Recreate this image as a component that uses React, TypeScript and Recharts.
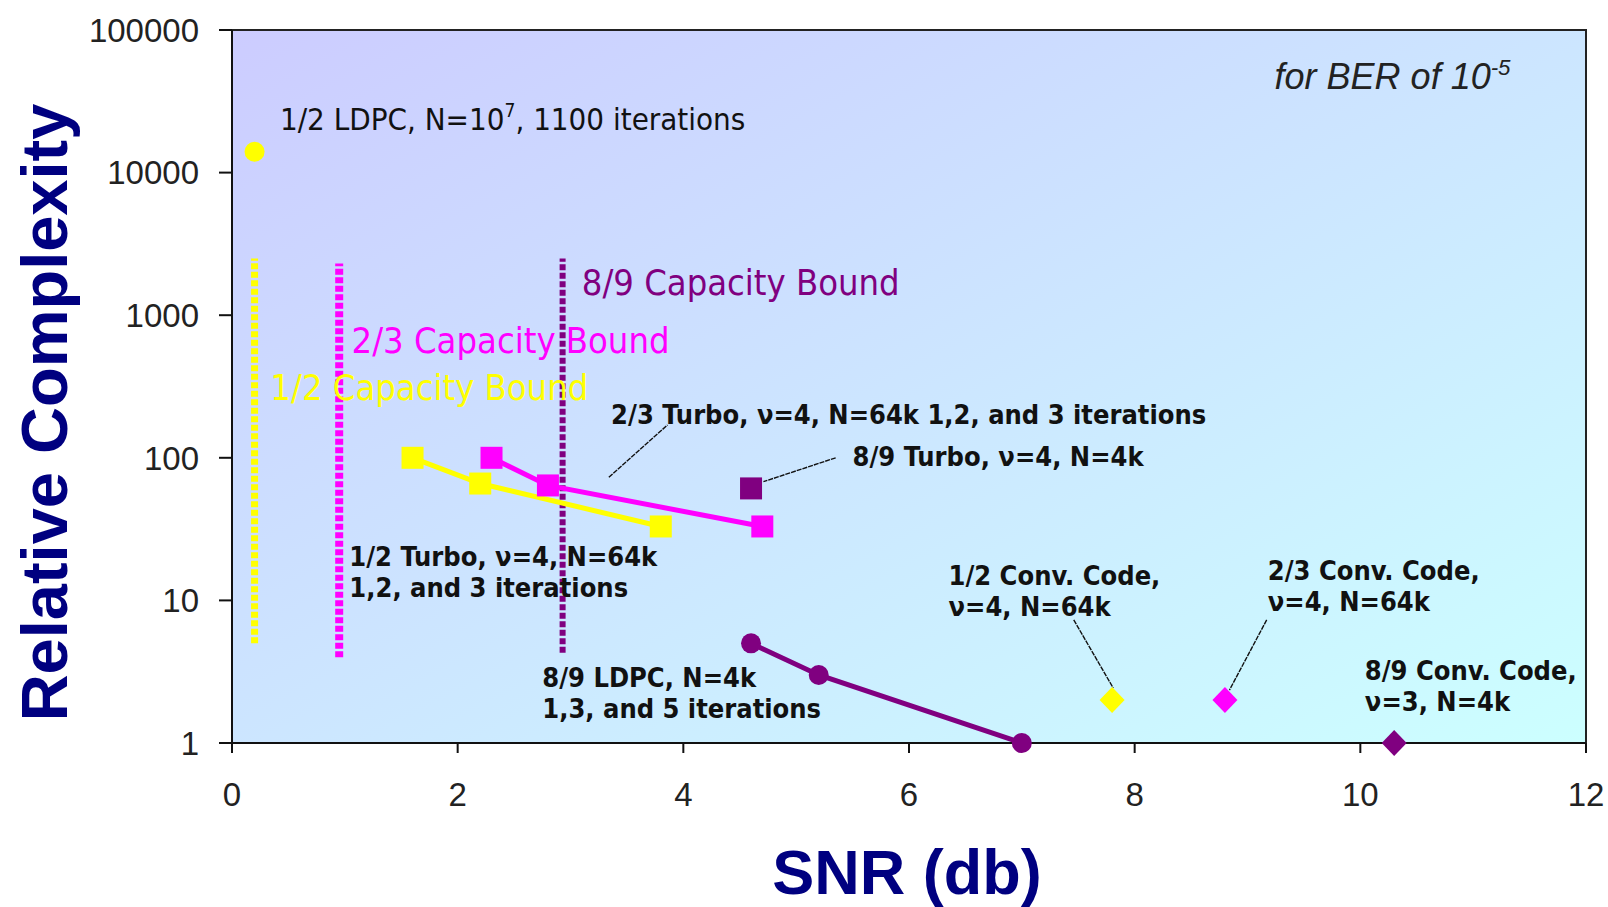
import React from "react";
import {
  ScatterChart,
  Scatter,
  XAxis,
  YAxis,
  ReferenceArea,
  ReferenceLine,
  ReferenceDot,
  Label,
} from "recharts";

const snrTicks = [0, 2, 4, 6, 8, 10, 12];
const complexityTicks = [1, 10, 100, 1000, 10000, 100000];

// 1/2 LDPC, N=10^7, 1100 iterations
const ldpcHalfSnr = [0.2];
const ldpcHalfCx = [14000];

// turbo codes, 1,2 and 3 iterations
const turboHalfSnr = [1.6, 2.2, 3.8];
const turboHalfCx = [100, 66, 33];
const turboTwoThirdsSnr = [2.3, 2.8, 4.7];
const turboTwoThirdsCx = [100, 64, 33];
const turboEightNinthsSnr = [4.6];
const turboEightNinthsCx = [61];

// 8/9 LDPC, N=4k, 1,3 and 5 iterations
const ldpcEightNinthsSnr = [4.6, 5.2, 7.0];
const ldpcEightNinthsCx = [5, 3, 1];

// convolutional codes
const convHalfSnr = [7.8];
const convHalfCx = [2];
const convTwoThirdsSnr = [8.8];
const convTwoThirdsCx = [2];
const convEightNinthsSnr = [10.3];
const convEightNinthsCx = [1];

// capacity bounds (1/2, 2/3, 8/9)
const boundSnr = [0.2, 0.95, 2.93];
const boundLow = [5, 4, 4.3];
const boundHigh = [2500, 2300, 2500];

// leader lines from labels to points
const leaderFromSnr = [3.34, 5.35, 7.46, 9.17];
const leaderFromCx = [73, 100, 7.3, 7.3];
const leaderToSnr = [3.86, 4.71, 7.81, 8.84];
const leaderToCx = [170, 68, 2.43, 2.35];

const YELLOW = "#FFFF00";
const MAGENTA = "#FF00FF";
const PURPLE = "#800080";
const NAVY = "#000080";

const ARIAL = "'Liberation Sans', Arial, sans-serif";
const TAHOMA = "'DejaVu Sans Condensed', 'DejaVu Sans', sans-serif";

const pts = (xs: number[], ys: number[]) => xs.map((x, i) => ({ snr: x, cx: ys[i] }));

const square = (color: string, s: number) => (p: any) =>
  <rect x={p.cx - s / 2} y={p.cy - s / 2} width={s} height={s} fill={color} />;
const circle = (color: string, r: number) => (p: any) =>
  <circle cx={p.cx} cy={p.cy} r={r} fill={color} />;
const diamond = (color: string, w: number, h: number) => (p: any) => (
  <polygon
    points={`${p.cx},${p.cy - h / 2} ${p.cx + w / 2},${p.cy} ${p.cx},${p.cy + h / 2} ${p.cx - w / 2},${p.cy}`}
    fill={color}
  />
);

type Seg = { t: string; sup?: boolean };
type Note = {
  snr: number;
  cx: number;
  lines: Seg[][];
  color: string;
  size: number;
  bold?: boolean;
  italic?: boolean;
  family?: string;
};

const notes: Note[] = [
  { snr: 0.425, cx: 20000, color: "#111", size: 31, lines: [[{ t: "1/2 LDPC, N=10" }, { t: "7", sup: true }, { t: ", 1100 iterations" }]] },
  { snr: 9.24, cx: 38500, color: "#222", size: 36, italic: true, family: ARIAL, lines: [[{ t: "for BER of 10" }, { t: "-5", sup: true }]] },
  { snr: 3.1, cx: 1390, color: PURPLE, size: 36, lines: [[{ t: "8/9 Capacity Bound" }]] },
  { snr: 1.06, cx: 543, color: MAGENTA, size: 36, lines: [[{ t: "2/3 Capacity Bound" }]] },
  { snr: 0.34, cx: 254, color: YELLOW, size: 36, lines: [[{ t: "1/2 Capacity Bound" }]] },
  { snr: 3.36, cx: 173, color: "#111", size: 27, bold: true, lines: [[{ t: "2/3 Turbo, ν=4, N=64k 1,2, and 3 iterations" }]] },
  { snr: 5.5, cx: 88, color: "#111", size: 27, bold: true, lines: [[{ t: "8/9 Turbo, ν=4, N=4k" }]] },
  { snr: 1.04, cx: 17.4, color: "#111", size: 27, bold: true, lines: [[{ t: "1/2 Turbo, ν=4, N=64k" }], [{ t: "1,2, and 3 iterations" }]] },
  { snr: 2.75, cx: 2.47, color: "#111", size: 27, bold: true, lines: [[{ t: "8/9 LDPC, N=4k" }], [{ t: "1,3, and 5 iterations" }]] },
  { snr: 6.35, cx: 12.8, color: "#111", size: 27, bold: true, lines: [[{ t: "1/2 Conv. Code," }], [{ t: "ν=4, N=64k" }]] },
  { snr: 9.18, cx: 13.9, color: "#111", size: 27, bold: true, lines: [[{ t: "2/3 Conv. Code," }], [{ t: "ν=4, N=64k" }]] },
  { snr: 10.04, cx: 2.77, color: "#111", size: 27, bold: true, lines: [[{ t: "8/9 Conv. Code," }], [{ t: "ν=3, N=4k" }]] },
];

const renderNote = (n: Note) => (props: any) => {
  const vb = props.viewBox || {};
  const x = vb.x + (vb.width || 0) / 2;
  const y = vb.y + (vb.height || 0) / 2;
  const shift = n.size * 0.4;
  return (
    <text
      x={x}
      y={y}
      fill={n.color}
      fontSize={n.size}
      fontFamily={n.family || TAHOMA}
      fontWeight={n.bold ? 700 : 400}
      fontStyle={n.italic ? "italic" : "normal"}
      style={{ fontStretch: n.family ? "normal" : "condensed" }}
    >
      {n.lines.map((line, li) => (
        <tspan key={li} x={x} y={y + li * 31}>
          {line.map((s, si) => {
            if (s.sup) {
              return (
                <tspan key={si} dy={-shift} fontSize={n.size * 0.62}>
                  {s.t}
                </tspan>
              );
            }
            const prevSup = si > 0 && line[si - 1].sup;
            return (
              <tspan key={si} dy={prevSup ? shift : 0}>
                {s.t}
              </tspan>
            );
          })}
        </tspan>
      ))}
    </text>
  );
};

const yTitle = (props: any) => {
  const vb = props.viewBox;
  const x = vb.x + 67;
  const y = vb.y + vb.height / 2 + 26;
  return (
    <text x={x} y={y} transform={`rotate(-90 ${x} ${y})`} textAnchor="middle" fill={NAVY} fontSize={65} fontWeight={700} fontFamily={ARIAL}>
      Relative Complexity
    </text>
  );
};

const xTitle = (props: any) => {
  const vb = props.viewBox;
  const x = vb.x + vb.width / 2 - 2;
  const y = vb.y + 151;
  return (
    <text x={x} y={y} textAnchor="middle" fill={NAVY} fontSize={63} fontWeight={700} fontFamily={ARIAL}>
      SNR (db)
    </text>
  );
};

const tickStyle = { fill: "#222", fontSize: 33, fontFamily: ARIAL };
const axisStroke = { stroke: "#111", strokeWidth: 2 };

export default function App() {
  const boundColors = [YELLOW, MAGENTA, PURPLE];
  const boundWidths = [7, 8, 6];
  return (
    <div style={{ position: "absolute", left: 0, top: 0, width: 1608, height: 907, background: "#fff" }}>
      <ScatterChart width={1608} height={907} margin={{ top: 30, right: 22, bottom: 0, left: 0 }}>
        <defs>
          <linearGradient id="plotBg" x1="0" y1="0" x2="1" y2="1">
            <stop offset="0%" stopColor="#CCCCFF" />
            <stop offset="100%" stopColor="#CCFFFF" />
          </linearGradient>
        </defs>
        <XAxis
          type="number"
          dataKey="snr"
          domain={[0, 12]}
          ticks={snrTicks}
          height={164}
          tickSize={10}
          tickMargin={30}
          tick={tickStyle}
          axisLine={axisStroke}
          tickLine={axisStroke}
        >
          <Label content={xTitle} />
        </XAxis>
        <YAxis
          type="number"
          dataKey="cx"
          scale="log"
          domain={[1, 100000]}
          ticks={complexityTicks}
          width={232}
          tickSize={13}
          tickMargin={20}
          tick={tickStyle}
          axisLine={axisStroke}
          tickLine={axisStroke}
        >
          <Label content={yTitle} />
        </YAxis>
        <ReferenceArea x1={0} x2={12} y1={1} y2={100000} fill="url(#plotBg)" fillOpacity={1} stroke="#222" strokeWidth={2} />

        {boundSnr.map((x, i) => (
          <ReferenceLine
            key={"b" + i}
            segment={[{ x, y: boundLow[i] }, { x, y: boundHigh[i] }]}
            stroke={boundColors[i]}
            strokeWidth={boundWidths[i]}
            strokeDasharray="6 2.5"
          />
        ))}
        {leaderFromSnr.map((x, i) => (
          <ReferenceLine
            key={"l" + i}
            segment={[{ x, y: leaderFromCx[i] }, { x: leaderToSnr[i], y: leaderToCx[i] }]}
            stroke="#111"
            strokeWidth={1.4}
            strokeDasharray="5 1"
          />
        ))}

        <Scatter data={pts(ldpcHalfSnr, ldpcHalfCx)} shape={circle(YELLOW, 10)} isAnimationActive={false} />
        <Scatter data={pts(turboHalfSnr, turboHalfCx)} line={{ stroke: YELLOW, strokeWidth: 5 }} lineType="joint" shape={square(YELLOW, 22)} isAnimationActive={false} />
        <Scatter data={pts(turboTwoThirdsSnr, turboTwoThirdsCx)} line={{ stroke: MAGENTA, strokeWidth: 5 }} lineType="joint" shape={square(MAGENTA, 22)} isAnimationActive={false} />
        <Scatter data={pts(turboEightNinthsSnr, turboEightNinthsCx)} shape={square(PURPLE, 22)} isAnimationActive={false} />
        <Scatter data={pts(ldpcEightNinthsSnr, ldpcEightNinthsCx)} line={{ stroke: PURPLE, strokeWidth: 5 }} lineType="joint" shape={circle(PURPLE, 10)} isAnimationActive={false} />
        <Scatter data={pts(convHalfSnr, convHalfCx)} shape={diamond(YELLOW, 25, 26)} isAnimationActive={false} />
        <Scatter data={pts(convTwoThirdsSnr, convTwoThirdsCx)} shape={diamond(MAGENTA, 25, 26)} isAnimationActive={false} />
        <Scatter data={pts(convEightNinthsSnr, convEightNinthsCx)} shape={diamond(PURPLE, 25, 26)} isAnimationActive={false} />

        {notes.map((n, i) => (
          <ReferenceDot key={"n" + i} x={n.snr} y={n.cx} r={1} fill="none" stroke="none" label={renderNote(n)} />
        ))}
      </ScatterChart>
    </div>
  );
}
